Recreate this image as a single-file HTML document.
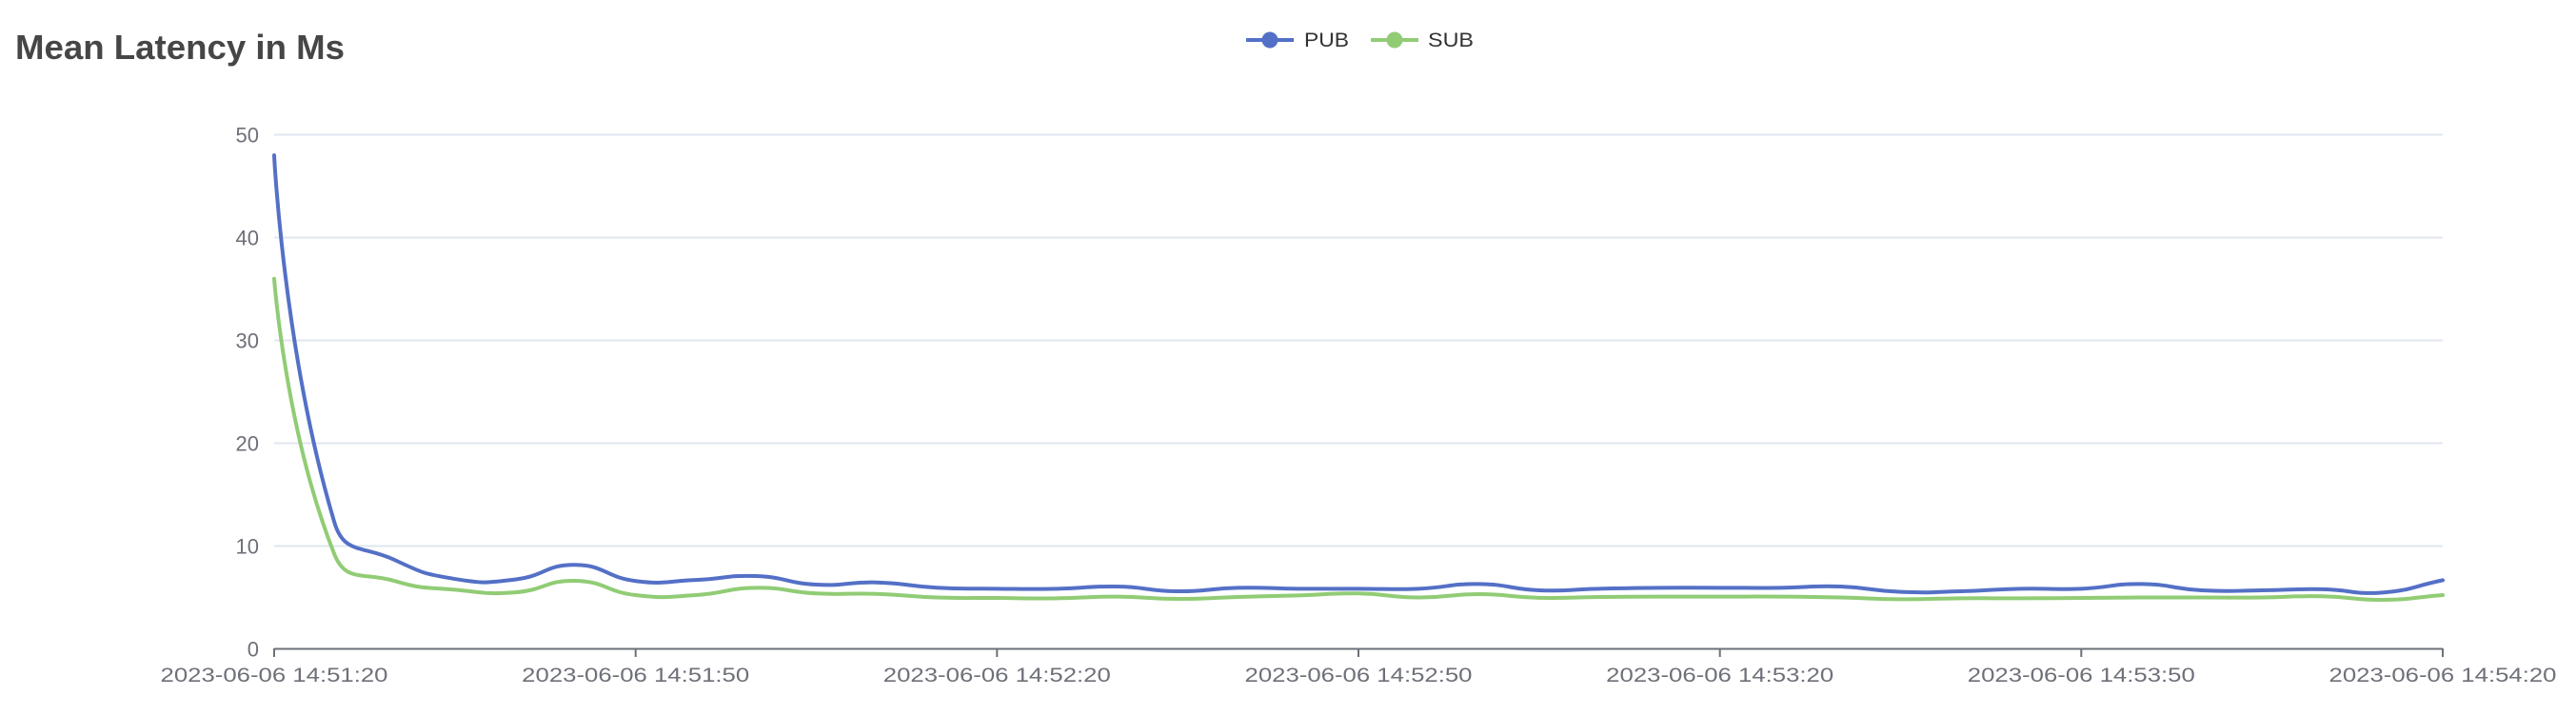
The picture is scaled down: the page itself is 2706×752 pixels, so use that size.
<!DOCTYPE html>
<html>
<head>
<meta charset="utf-8">
<style>
  html, body { margin: 0; padding: 0; background: #ffffff; }
  body { width: 2706px; height: 752px; overflow: hidden; }
  svg { display: block; }
  text { font-family: "Liberation Sans", Arial, sans-serif; }
</style>
</head>
<body>
<svg id="chart" width="2706" height="752" viewBox="0 0 2706 752" xmlns="http://www.w3.org/2000/svg">
  <rect x="0" y="0" width="2706" height="752" fill="#ffffff"/>

  <!-- Title -->
  <text x="16" y="62" font-size="36" font-weight="bold" fill="#464646" textLength="346" lengthAdjust="spacingAndGlyphs">Mean Latency in Ms</text>

  <!-- Legend -->
  <line x1="1309" y1="42" x2="1359" y2="42" stroke="#5470c6" stroke-width="4"/>
  <circle cx="1334" cy="42" r="8.5" fill="#5470c6"/>
  <text x="1370" y="49" font-size="21" fill="#333333" textLength="47" lengthAdjust="spacingAndGlyphs">PUB</text>
  <line x1="1440" y1="42" x2="1490" y2="42" stroke="#91cc75" stroke-width="4"/>
  <circle cx="1465" cy="42" r="8.5" fill="#91cc75"/>
  <text x="1500" y="49" font-size="21" fill="#333333" textLength="48" lengthAdjust="spacingAndGlyphs">SUB</text>

  <!-- Grid lines -->
  <g stroke="#e0e6f1" stroke-width="2">
    <line x1="288" y1="141.5" x2="2566" y2="141.5"/>
    <line x1="288" y1="249.5" x2="2566" y2="249.5"/>
    <line x1="288" y1="357.5" x2="2566" y2="357.5"/>
    <line x1="288" y1="465.5" x2="2566" y2="465.5"/>
    <line x1="288" y1="573.5" x2="2566" y2="573.5"/>
  </g>

  <!-- Y axis labels -->
  <g font-size="22" fill="#6e7079" text-anchor="end">
    <text x="272" y="149.5">50</text>
    <text x="272" y="257.5">40</text>
    <text x="272" y="365.5">30</text>
    <text x="272" y="473.5">20</text>
    <text x="272" y="581.5">10</text>
    <text x="272" y="689.5">0</text>
  </g>

  <!-- Series -->
  <path id="sub" d="" fill="none" stroke="#91cc75" stroke-width="4" stroke-linejoin="round" stroke-linecap="round"/>
  <path id="pub" d="" fill="none" stroke="#5470c6" stroke-width="4" stroke-linejoin="round" stroke-linecap="round"/>

  <!-- X axis line + ticks -->
  <g stroke="#6e7079" stroke-width="2">
    <line x1="288" y1="681.5" x2="2566" y2="681.5"/>
    <line x1="288" y1="681" x2="288" y2="690"/>
    <line x1="667.7" y1="681" x2="667.7" y2="690"/>
    <line x1="1047.3" y1="681" x2="1047.3" y2="690"/>
    <line x1="1427" y1="681" x2="1427" y2="690"/>
    <line x1="1806.7" y1="681" x2="1806.7" y2="690"/>
    <line x1="2186.3" y1="681" x2="2186.3" y2="690"/>
    <line x1="2566" y1="681" x2="2566" y2="690"/>
  </g>

  <!-- X axis labels -->
  <g font-size="21" fill="#6e7079" text-anchor="middle">
    <text x="288" y="716" textLength="239" lengthAdjust="spacingAndGlyphs">2023-06-06 14:51:20</text>
    <text x="667.7" y="716" textLength="239" lengthAdjust="spacingAndGlyphs">2023-06-06 14:51:50</text>
    <text x="1047.3" y="716" textLength="239" lengthAdjust="spacingAndGlyphs">2023-06-06 14:52:20</text>
    <text x="1427" y="716" textLength="239" lengthAdjust="spacingAndGlyphs">2023-06-06 14:52:50</text>
    <text x="1806.7" y="716" textLength="239" lengthAdjust="spacingAndGlyphs">2023-06-06 14:53:20</text>
    <text x="2186.3" y="716" textLength="239" lengthAdjust="spacingAndGlyphs">2023-06-06 14:53:50</text>
    <text x="2566" y="716" textLength="239" lengthAdjust="spacingAndGlyphs">2023-06-06 14:54:20</text>
  </g>
</svg>
<script>
(function(){
  var pub = [48,12.3,8.65,6.8,6.75,8.17,6.6,6.7,7.08,6.25,6.46,5.95,5.85,5.85,6.06,5.6,5.94,5.85,5.85,5.85,6.31,5.7,5.85,5.94,5.94,5.94,6.06,5.54,5.6,5.85,5.85,6.31,5.69,5.69,5.8,5.48,6.68];
  var sub = [36,9.2,6.6,5.75,5.5,6.62,5.23,5.23,5.94,5.39,5.35,5.0,4.95,4.92,5.08,4.86,5.05,5.2,5.39,5.0,5.32,4.97,5.05,5.08,5.08,5.08,5.0,4.83,4.92,4.92,4.95,5.0,5.0,5.0,5.12,4.77,5.23];
  function toPts(arr){
    var pts = [];
    for (var i=0;i<arr.length;i++){
      pts.push([288 + i*(2278/36), 681.5 - arr[i]*10.8]);
    }
    return pts;
  }
  function smoothPath(pts, smooth){
    var d = 'M' + pts[0][0].toFixed(2) + ',' + pts[0][1].toFixed(2);
    var cpx0 = pts[0][0], cpy0 = pts[0][1];
    for (var i=1;i<pts.length;i++){
      var x = pts[i][0], y = pts[i][1];
      var px = pts[i-1][0], py = pts[i-1][1];
      var nx, ny;
      if (i === pts.length-1){ nx = x; ny = y; } else { nx = pts[i+1][0]; ny = pts[i+1][1]; }
      var vx = nx - px, vy = ny - py;
      var l0 = Math.sqrt((x-px)*(x-px)+(y-py)*(y-py));
      var l1 = Math.sqrt((nx-x)*(nx-x)+(ny-y)*(ny-y));
      var r = (l0+l1) > 0 ? l1/(l0+l1) : 0.5;
      var ncx = x + vx*smooth*r, ncy = y + vy*smooth*r;
      var cpx1 = x - vx*smooth*(1-r), cpy1 = y - vy*smooth*(1-r);
      d += ' C' + cpx0.toFixed(2) + ',' + cpy0.toFixed(2) + ' ' + cpx1.toFixed(2) + ',' + cpy1.toFixed(2) + ' ' + x.toFixed(2) + ',' + y.toFixed(2);
      cpx0 = ncx; cpy0 = ncy;
    }
    return d;
  }
  document.getElementById('pub').setAttribute('d', smoothPath(toPts(pub), 0.5));
  document.getElementById('sub').setAttribute('d', smoothPath(toPts(sub), 0.5));
})();
</script>
</body>
</html>
